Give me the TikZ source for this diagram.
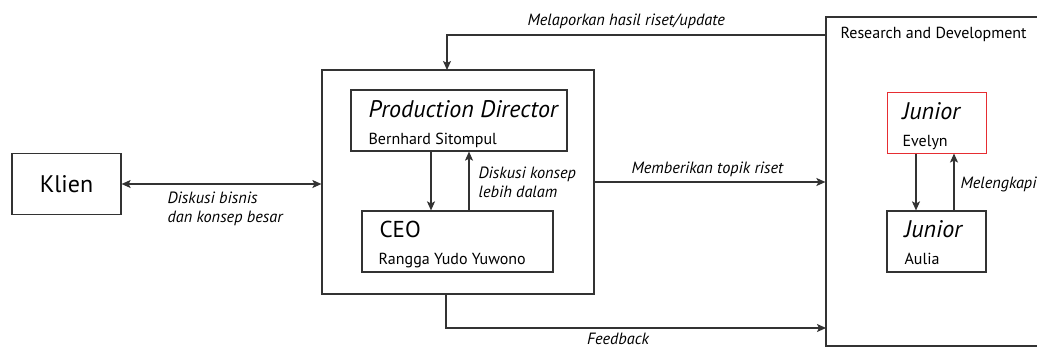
\documentclass[tikz,border=0pt]{standalone}
\usepackage{fontspec}
\setmainfont{PT Sans}
\usetikzlibrary{arrows.meta, calc}
\definecolor{boxred}{RGB}{230,45,50}

\begin{document}
\begin{tikzpicture}[x=1pt, y=-1pt, line width=1.2pt,
  >={Stealth[length=9pt, width=8pt, inset=2pt]},
  box/.style={draw=black!80, inner sep=0pt},
  flow/.style={draw=black!80, ->},
  lbl/.style={font=\fontsize{16.3}{18}\selectfont\itshape, anchor=base west, inner sep=0pt},
  roletxt/.style={font=\fontsize{24}{26}\selectfont\itshape, anchor=base west, inner sep=0pt},
  persontxt/.style={font=\fontsize{16}{18}\selectfont, anchor=base west, inner sep=0pt}]
\useasboundingbox (0,0) rectangle (1037,349);

% Klien
\node[box, minimum width=109pt, minimum height=61pt, font=\fontsize{24}{26}\selectfont] (klien) at (66.5,184) {Klien};

% Production team
\node[box, minimum width=272pt, minimum height=224pt] (mid) at (458,182) {};
\node[box, minimum width=216pt, minimum height=61pt] (pd) at (459,120.5) {};
\node[roletxt] (pdt) at (368,117) {Production Director};
\node[persontxt] (pdn) at (368,144) {Bernhard Sitompul};
\node[box, minimum width=191pt, minimum height=61pt] (ceo) at (457.5,241.5) {};
\node[roletxt, font=\fontsize{23}{25}\selectfont] (ceot) at (379,237) {CEO};
\node[persontxt] (ceon) at (378,264) {Rangga Yudo Yuwono};

% Research and Development
\node[box, minimum width=224pt, minimum height=329pt] (rnd) at (938,181.5) {};
\node[persontxt] (rndt) at (840,38) {Research and Development};
\node[box, draw=boxred, line width=1pt, minimum width=99pt, minimum height=61pt] (eve) at (936.5,122.5) {};
\node[roletxt] (evet) at (902,119) {Junior};
\node[persontxt] (even) at (902,146) {Evelyn};
\node[box, minimum width=99pt, minimum height=61pt] (aul) at (936.5,241.5) {};
\node[roletxt] (ault) at (904,237) {Junior};
\node[persontxt] (auln) at (904,264) {Aulia};

% Connectors
\coordinate (rtop) at (826,35);
\coordinate (midin) at (447,70);
\coordinate (fbout) at (446,294);
\coordinate (fbin) at (826,328);
\draw[flow, <->] (klien.east) -- (klien.east -| mid.west);
\draw[flow] (mid.east) -- (mid.east -| rnd.west);
\draw[flow] (rtop) -| (midin);
\draw[flow] (fbout) |- (fbin);
\draw[flow] ([xshift=-28pt]pd.south) -- ([xshift=-28pt]pd.south |- ceo.north);
\draw[flow] ([xshift=10pt]pd.south |- ceo.north) -- ([xshift=10pt]pd.south);
\draw[flow] ([xshift=-20.5pt]eve.south) -- ([xshift=-20.5pt]eve.south |- aul.north);
\draw[flow] ([xshift=17.5pt]eve.south |- aul.north) -- ([xshift=17.5pt]eve.south);

% Labels
\node[lbl] (l1) at (167,203) {Diskusi bisnis};
\node[lbl] (l2) at (167,222) {dan konsep besar};
\node[lbl] (l3) at (478,178) {Diskusi konsep};
\node[lbl] (l4) at (478,197) {lebih dalam};
\node[lbl] (l5) at (527,25) {Melaporkan hasil riset/update};
\node[lbl] (l6) at (631,173) {Memberikan topik riset};
\node[lbl, anchor=base] (l7) at (618,344) {Feedback};
\node[lbl] (l8) at (960,188) {Melengkapi};
\end{tikzpicture}
\end{document}
